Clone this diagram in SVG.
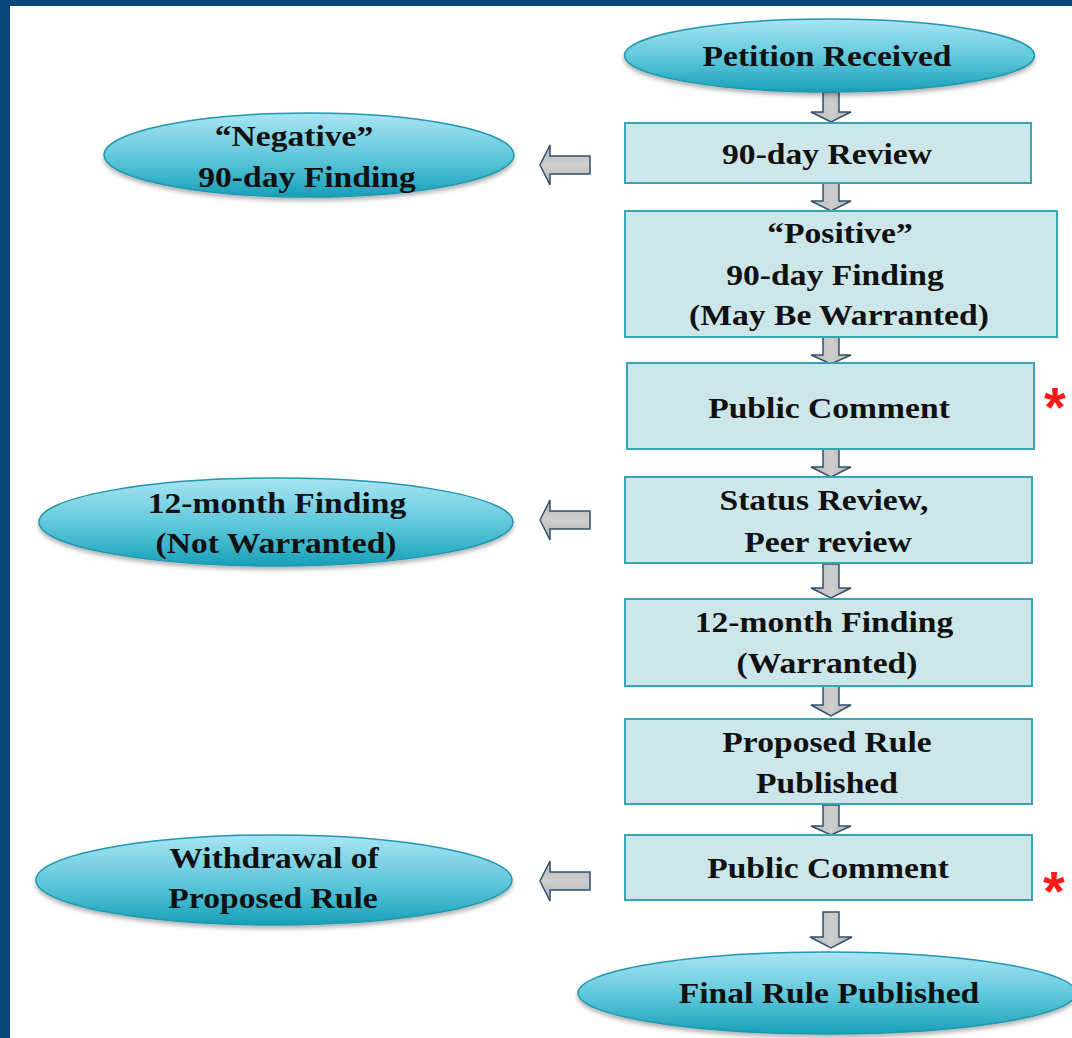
<svg xmlns="http://www.w3.org/2000/svg" width="1072" height="1038" viewBox="0 0 1072 1038">
  <defs>
    <linearGradient id="ellGrad" x1="0" y1="0" x2="0" y2="1">
      <stop offset="0" stop-color="#a9e5f3"/>
      <stop offset="0.55" stop-color="#5cc6da"/>
      <stop offset="1" stop-color="#17a0b8"/>
    </linearGradient>
    <linearGradient id="arrGradV" x1="0" y1="0" x2="1" y2="0">
      <stop offset="0" stop-color="#b4b4b4"/>
      <stop offset="0.5" stop-color="#cfcfcf"/>
      <stop offset="1" stop-color="#b0b0b0"/>
    </linearGradient>
    <linearGradient id="arrGradH" x1="0" y1="0" x2="0" y2="1">
      <stop offset="0" stop-color="#b4b4b4"/>
      <stop offset="0.5" stop-color="#cfcfcf"/>
      <stop offset="1" stop-color="#b0b0b0"/>
    </linearGradient>
    <filter id="shadow" x="-10%" y="-20%" width="120%" height="150%">
      <feDropShadow dx="0" dy="3" stdDeviation="2" flood-color="#000" flood-opacity="0.3"/>
    </filter>
  </defs>
  <style>
    .ell { fill: url(#ellGrad); stroke: #2198ae; stroke-width: 1.5; filter: url(#shadow); }
    .box { fill: #cde6ea; stroke: #38a5b5; stroke-width: 2; }
    .lbl { font-family: "Liberation Serif", "Times New Roman", serif; font-weight: bold; font-size: 30px; fill: #111; text-anchor: middle; }
    .star { font-family: "Liberation Sans", Arial, sans-serif; font-weight: bold; font-size: 56px; fill: #ff1a1a; text-anchor: middle; }
    .darr { fill: url(#arrGradV); stroke: #30506f; stroke-width: 1.5; stroke-linejoin: miter; }
    .larr { fill: url(#arrGradH); stroke: #30506f; stroke-width: 1.5; stroke-linejoin: miter; }
  </style>

  <rect x="0" y="0" width="1072" height="1038" fill="#ffffff"/>
  <rect x="0" y="0" width="1072" height="6" fill="#0b467b"/>
  <rect x="0" y="0" width="10" height="1038" fill="#0b467b"/>

  <g id="connectors">
    <path class="darr" d="M823,92 H839 V112 H851 L831,122 L811,112 H823 Z"/>
    <path class="darr" d="M823,183 H839 V201 H851 L831,211 L811,201 H823 Z"/>
    <path class="darr" d="M823,337 H839 V355 H851 L831,364 L811,355 H823 Z"/>
    <path class="darr" d="M823,449 H839 V467 H851 L831,477 L811,467 H823 Z"/>
    <path class="darr" d="M823,564 H839 V588 H851 L831,598 L811,588 H823 Z"/>
    <path class="darr" d="M823,686 H839 V705 H851 L831,716 L811,705 H823 Z"/>
    <path class="darr" d="M823,805 H839 V826 H851 L831,835 L811,826 H823 Z"/>
    <path class="darr" d="M823,912 H839 V937 H852 L831,948 L810,937 H823 Z"/>
    <path class="larr" d="M590,156 H550 V145 L540,165 L550,185 V174 H590 Z"/>
    <path class="larr" d="M590,511 H550 V500 L540,520 L550,540 V529 H590 Z"/>
    <path class="larr" d="M590,872 H550 V861 L540,881 L550,901 V890 H590 Z"/>
  </g>

  <g id="petition-received">
    <ellipse class="ell" cx="829.5" cy="55.5" rx="205" ry="36.5"/>
    <text class="lbl" transform="translate(827 66) scale(1.12 1)">Petition Received</text>
  </g>

  <g id="review-90day">
    <rect class="box" x="625" y="123" width="406" height="60"/>
    <text class="lbl" transform="translate(827 164) scale(1.12 1)">90-day Review</text>
  </g>

  <g id="negative-finding">
    <ellipse class="ell" cx="309" cy="155" rx="205" ry="42"/>
    <text class="lbl" transform="translate(294 146) scale(1.12 1)">“Negative”</text>
    <text class="lbl" transform="translate(307 187) scale(1.12 1)">90-day Finding</text>
  </g>

  <g id="positive-finding">
    <rect class="box" x="625" y="211" width="432" height="126"/>
    <text class="lbl" transform="translate(840 243) scale(1.12 1)">“Positive”</text>
    <text class="lbl" transform="translate(835 285) scale(1.12 1)">90-day Finding</text>
    <text class="lbl" transform="translate(839 325) scale(1.12 1)">(May Be Warranted)</text>
  </g>

  <g id="public-comment-1">
    <rect class="box" x="627" y="363" width="407" height="86"/>
    <text class="lbl" transform="translate(829 418) scale(1.12 1)">Public Comment</text>
    <text class="star" x="1055" y="426">*</text>
  </g>

  <g id="status-review">
    <rect class="box" x="625" y="477" width="407" height="86"/>
    <text class="lbl" transform="translate(824 510) scale(1.12 1)">Status Review,</text>
    <text class="lbl" transform="translate(828 552) scale(1.12 1)">Peer review</text>
  </g>

  <g id="not-warranted">
    <ellipse class="ell" cx="276" cy="522" rx="237" ry="44"/>
    <text class="lbl" transform="translate(277 513) scale(1.12 1)">12-month Finding</text>
    <text class="lbl" transform="translate(276 553) scale(1.12 1)">(Not Warranted)</text>
  </g>

  <g id="warranted">
    <rect class="box" x="625" y="599" width="407" height="87"/>
    <text class="lbl" transform="translate(824 632) scale(1.12 1)">12-month Finding</text>
    <text class="lbl" transform="translate(827 673) scale(1.12 1)">(Warranted)</text>
  </g>

  <g id="proposed-rule">
    <rect class="box" x="625" y="719" width="407" height="85"/>
    <text class="lbl" transform="translate(827 752) scale(1.12 1)">Proposed Rule</text>
    <text class="lbl" transform="translate(827 793) scale(1.12 1)">Published</text>
  </g>

  <g id="public-comment-2">
    <rect class="box" x="625" y="835" width="407" height="65"/>
    <text class="lbl" transform="translate(828 878) scale(1.12 1)">Public Comment</text>
    <text class="star" x="1054" y="910">*</text>
  </g>

  <g id="withdrawal">
    <ellipse class="ell" cx="274" cy="880" rx="238" ry="45"/>
    <text class="lbl" transform="translate(274 868) scale(1.12 1)">Withdrawal of</text>
    <text class="lbl" transform="translate(273 908) scale(1.12 1)">Proposed Rule</text>
  </g>

  <g id="final-rule">
    <ellipse class="ell" cx="827" cy="993" rx="249" ry="41"/>
    <text class="lbl" transform="translate(829 1003) scale(1.12 1)">Final Rule Published</text>
  </g>
</svg>
